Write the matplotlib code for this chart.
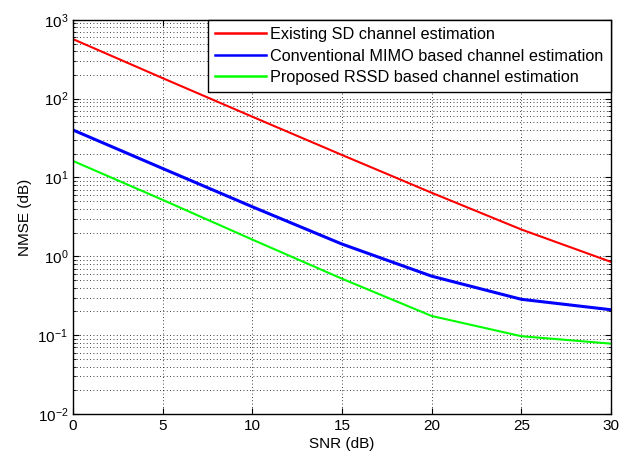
import matplotlib
matplotlib.use("Agg")
import matplotlib.pyplot as plt
from matplotlib.ticker import LogLocator, NullFormatter

snr = [0, 5, 10, 15, 20, 25, 30]

existing_sd = [569, 182, 59, 19.3, 6.4, 2.19, 0.85]
conventional_mimo = [40, 13, 4.25, 1.43, 0.56, 0.285, 0.21]
proposed_rssd = [16.2, 5.2, 1.63, 0.52, 0.175, 0.097, 0.078]

labels = [
    "Existing SD channel estimation",
    "Conventional MIMO based channel estimation",
    "Proposed RSSD based channel estimation",
]

plt.rcParams["font.family"] = ["Liberation Sans", "DejaVu Sans"]
plt.rcParams["mathtext.fontset"] = "custom"
plt.rcParams["mathtext.rm"] = "Liberation Sans"
plt.rcParams["mathtext.it"] = "Liberation Sans"

fig = plt.figure(figsize=(6.19, 4.61), dpi=100)
ax = fig.add_axes([0.118, 0.102, 0.869, 0.855])

ax.semilogy(snr, existing_sd, color="#ff0000", linewidth=1.5, label=labels[0])
ax.semilogy(snr, conventional_mimo, color="#0000ff", linewidth=2.2, label=labels[1])
ax.semilogy(snr, proposed_rssd, color="#00ff00", linewidth=1.5, label=labels[2])

ax.set_xlim(0, 30)
ax.set_ylim(1e-2, 1e3)
ax.set_xticks([0, 5, 10, 15, 20, 25, 30])
ax.yaxis.set_major_locator(LogLocator(base=10, numticks=10))
ax.yaxis.set_minor_locator(LogLocator(base=10, subs=range(2, 10), numticks=20))
ax.yaxis.set_minor_formatter(NullFormatter())

ax.tick_params(which="both", direction="in", top=True, right=True,
               labelsize=11, colors="black")
ax.tick_params(which="major", length=4)
ax.tick_params(which="minor", length=2)

grid_style = dict(color="black", linestyle=(0, (1, 3)), linewidth=0.6)
ax.grid(True, which="major", axis="both", **grid_style)
ax.grid(True, which="minor", axis="y", **grid_style)

for spine in ax.spines.values():
    spine.set_linewidth(1.0)
    spine.set_color("black")

ax.set_xlabel("SNR (dB)", fontsize=11, labelpad=3)
ax.set_ylabel("NMSE (dB)", fontsize=11, labelpad=4)

leg = ax.legend(loc="upper right", fontsize=11.7, fancybox=False,
                framealpha=1, edgecolor="black", borderaxespad=0,
                handlelength=3.1, handletextpad=0.3, labelspacing=0.4,
                borderpad=0.45)
leg.get_frame().set_linewidth(1.0)
for line in leg.get_lines():
    line.set_linewidth(1.8)

fig.savefig("out.png", dpi=100)
